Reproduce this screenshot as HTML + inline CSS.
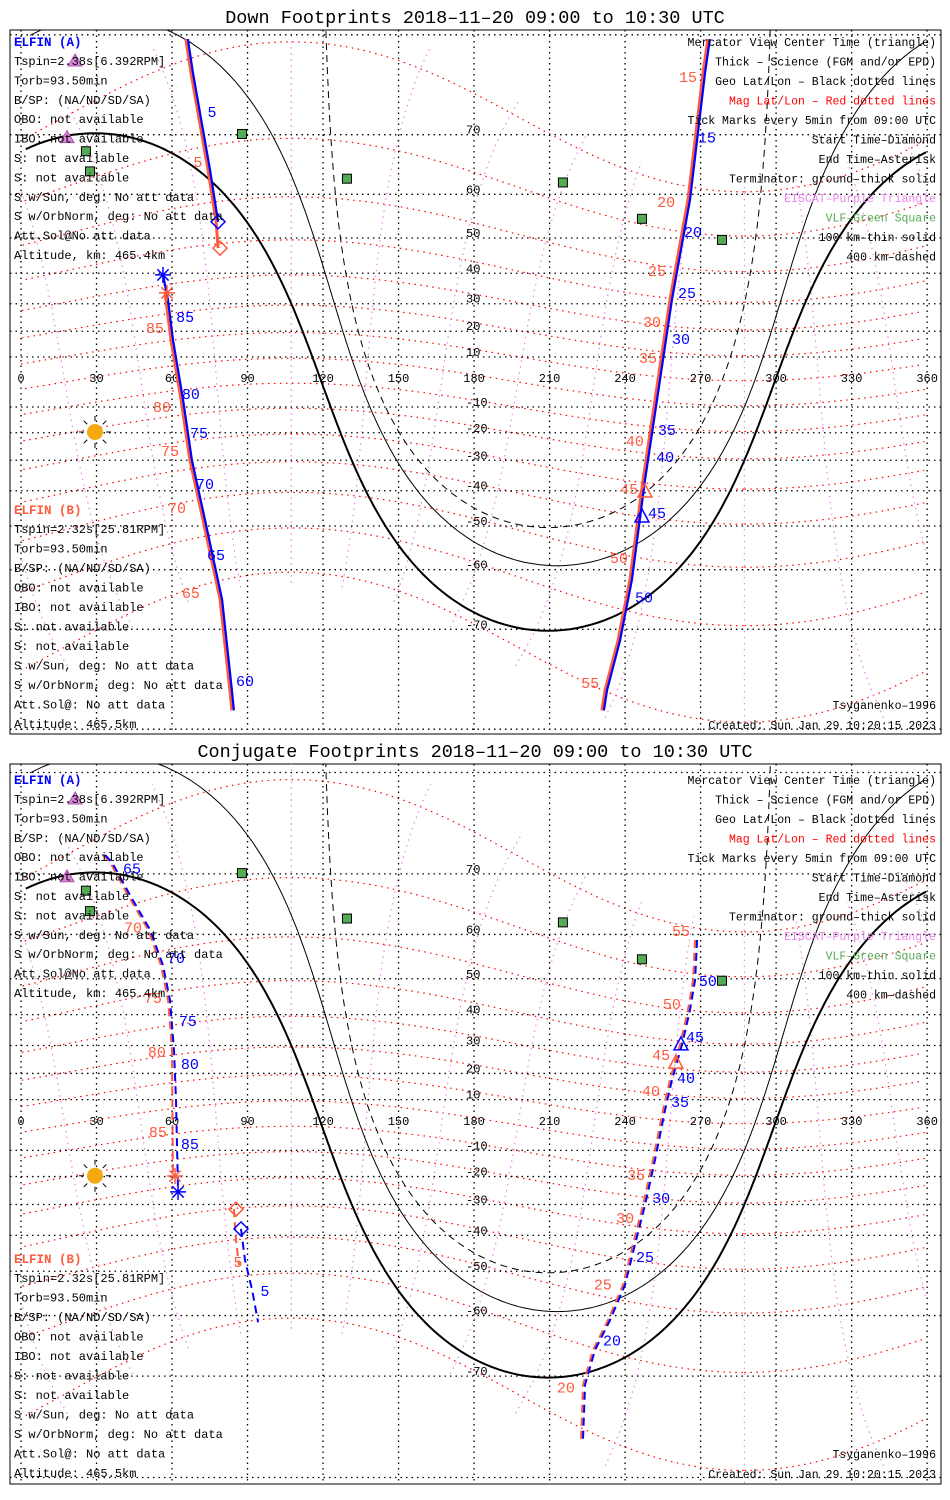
<!DOCTYPE html>
<html><head><meta charset="utf-8"><style>
html,body{margin:0;padding:0;background:#fff;width:950px;height:1500px;overflow:hidden;}
svg{display:block;}
text{font-family:"Liberation Mono",monospace;}
</style></head><body>
<svg id="chart" width="950" height="1500" viewBox="0 0 950 1500" xmlns="http://www.w3.org/2000/svg">
<defs>
<clipPath id="clip1"><rect x="10" y="30" width="931" height="704"/></clipPath>
<clipPath id="clip2"><rect x="10" y="764" width="931" height="720"/></clipPath>
</defs>
<rect x="0" y="0" width="950" height="1500" fill="#fff"/>
<text x="475" y="23" text-anchor="middle" font-size="18.5">Down Footprints 2018–11–20 09:00 to 10:30 UTC</text>
<text x="475" y="757" text-anchor="middle" font-size="18.5">Conjugate Footprints 2018–11–20 09:00 to 10:30 UTC</text>
<g id="p1"></g>
<g id="p2"></g>
</svg>
<script>
// ---- data ----
const gridLats = [-80,-70,-60,-50,-40,-30,-20,-10,0,10,20,30,40,50,60,70,80];
const gridLons = [0,30,60,90,120,150,180,210,240,270,300,330,360];
const latLabels = [70,60,50,40,30,20,10,-10,-20,-30,-40,-50,-60,-70];
const magLats = [-70,-60,-50,-40,-30,-20,-10,0,10,20,30,40,50,60,70];
const magLons = [0,30,60,90,120,150,180,210,240,270,300,330];
const dipolePole = [80.5, 287.4];
const termCenters = [[19.8,209.4],[19.8,213],[19.8,209.4]];
const termRadii = [90, 79, 70.2];
const sunPos = [29.4, -19.7];
const vlfStations = [[87.8,70.1],[25.8,67.6],[27.4,64.3],[129.5,63.0],[215.3,62.3],[246.7,54.7],[278.5,49.5]];
const eiscatStations = [[21.5,78.0],[18.3,69.6]];

const trackA1 = [
 [[66.3,79.7],[68.3,77.0],[75.1,64.6],[78.3,54.0]],
 [[273.7,79.7],[271.8,77.0],[265.8,58.9],[258.6,31.3],[252.7,-7.2],[247.9,-36.7],[242.7,-62.0],[238.0,-71.5],[232.8,-76.9],[231.6,-78.6]],
 [[84.6,-78.6],[83.8,-76.9],[79.9,-65.5],[73.1,-48.4],[67.9,-29.9],[64.4,-7.2],[60.4,16.7],[58.4,31.3],[56.4,39.5]]];
const trackB1 = [
 [[66.3,79.7],[68.3,77.0],[75.1,64.6],[78.3,54.0],[79.1,47.3]],
 [[273.7,79.7],[271.8,77.0],[265.8,58.9],[258.6,31.3],[252.7,-7.2],[247.9,-36.7],[242.7,-62.0],[238.0,-71.5],[232.8,-76.9],[231.6,-78.6]],
 [[84.6,-78.6],[83.8,-76.9],[79.9,-65.5],[73.1,-48.4],[67.9,-29.9],[64.4,-7.2],[60.4,16.7],[58.0,33.7]]];
const trackA2 = [
 [[33.4,72.4],[36.2,71.5],[43.3,66.9],[51.3,60.9],[56.4,53.3],[59.2,44.3],[60.8,28.4],[61.6,9.9],[62.0,-9.9],[62.4,-25.6]],
 [[87.4,-38.0],[89.0,-47.1],[91.8,-54.5],[94.2,-61.3]],
 [[268.6,58.9],[267.8,49.7],[265.8,41.4],[262.6,30.2],[258.6,17.5],[255.9,6.0],[251.9,-13.7],[247.9,-30.2],[243.9,-42.8],[240.0,-53.3],[234.0,-60.9],[228.0,-66.2],[224.1,-71.1],[223.3,-77.0]]];
const trackB2 = [
 [[33.4,72.4],[36.2,71.5],[43.3,66.9],[51.3,60.9],[56.4,53.3],[59.2,44.3],[60.8,28.4],[61.2,-19.8]],
 [[85.4,-31.6],[86.2,-41.4],[87.4,-48.4]],
 [[268.6,58.9],[267.8,49.7],[265.8,41.4],[262.6,30.2],[258.6,17.5],[255.9,6.0],[251.9,-13.7],[247.9,-30.2],[243.9,-42.8],[240.0,-53.3],[234.0,-60.9],[228.0,-66.2],[224.1,-71.1],[223.3,-77.0]]];

const tickMinA1 = [5,15,20,25,30,35,40,45,50,60,65,70,75,80,85];
const tickLocA1 = [[75.9,72.9],[272.5,69.6],[267.0,51.5],[264.6,33.7],[262.2,17.0],[256.6,-19.0],[255.9,-28.9],[252.7,-46.5],[247.5,-65.1],[89.0,-76.0],[77.5,-56.9],[73.1,-37.9],[70.7,-20.1],[67.5,-4.8],[65.2,25.3]];
const tickMinB1 = [5,15,20,25,30,35,40,45,50,55,65,70,75,80,85];
const tickLocB1 = [[70.3,65.9],[265.0,76.6],[256.3,58.4],[252.7,40.7],[250.7,23.4],[249.1,9.6],[243.9,-23.1],[241.6,-39.5],[237.6,-57.6],[226.1,-76.2],[67.5,-64.4],[62.0,-45.1],[59.2,-26.7],[56.0,-10.0],[53.2,21.2]];
const tickMinA2 = [65,70,75,80,85,5,50,45,40,35,30,25,20];
const tickLocA2 = [[44.1,70.7],[61.6,55.0],[66.3,38.0],[67.1,23.5],[67.1,-7.5],[96.9,-54.8],[272.9,49.4],[267.8,32.9],[264.2,18.3],[261.8,9.1],[254.3,-27.7],[247.9,-46.2],[234.8,-64.6]];
const tickMinB2 = [70,75,80,85,5,55,50,45,40,35,30,25,20];
const tickLocB2 = [[44.5,61.3],[52.4,44.9],[54.0,27.7],[54.4,-2.8],[86.2,-47.6],[262.2,60.7],[258.6,43.1],[254.3,26.7],[250.3,13.3],[244.4,-19.4],[240.0,-34.6],[231.2,-53.3],[216.5,-71.5]];

const startA = [[78.3,54.0],[87.4,-38.0]], startB = [[79.1,47.3],[85.4,-31.6]];
const endA = [[56.4,39.5],[62.4,-25.6]], endB = [[58.0,33.7],[61.2,-19.8]];
const centerA = [[246.7,-47.6],[262.2,30.2]], centerB = [[247.9,-40.4],[260.2,23.8]];

const infoA = ["Tspin=2.38s[6.392RPM]","Torb=93.50min","B/SP: (NA/ND/SD/SA)","OBO: not available","IBO: not available","S: not available","S: not available","S w/Sun, deg: No att data","S w/OrbNorm, deg: No att data","Att.Sol@No att data","Altitude, km: 465.4km"];
const infoB = ["Tspin=2.32s[25.81RPM]","Torb=93.50min","B/SP: (NA/ND/SD/SA)","OBO: not available","IBO: not available","S: not available","S: not available","S w/Sun, deg: No att data","S w/OrbNorm, deg: No att data","Att.Sol@: No att data","Altitude: 465.5km"];
const legendLines = [["Mercator View Center Time (triangle)","#000"],["Thick – Science (FGM and/or EPD)","#000"],["Geo Lat/Lon – Black dotted lines","#000"],["Mag Lat/Lon – Red dotted lines","#ff0000"],["Tick Marks every 5min from 09:00 UTC","#000"],["Start Time–Diamond","#000"],["End Time–Asterisk","#000"],["Terminator: ground–thick solid","#000"],["EISCAT–Purple Triangle","#ee82ee"],["VLF–Green Square","#55aa55"],["100 km–thin solid","#000"],["400 km–dashed","#000"]];

// ---- rendering ----
const NS = "http://www.w3.org/2000/svg";
const D = Math.PI/180;
const panels = [
 {g:document.getElementById('p1'), top:30, bot:734, y0:382, k:142.5, clip:'clip1', dy:0, dyB:0, tracks:[trackA1,trackB1], ticksA:[tickMinA1,tickLocA1], ticksB:[tickMinB1,tickLocB1], dashed:false, idx:0},
 {g:document.getElementById('p2'), top:764, bot:1484, y0:1125, k:144.7, clip:'clip2', dy:738, dyB:749, tracks:[trackA2,trackB2], ticksA:[tickMinA2,tickLocA2], ticksB:[tickMinB2,tickLocB2], dashed:true, idx:1}];
function xOf(lon){return 21 + lon*2.517;}
function yOf(P,lat){const l=Math.max(-85,Math.min(85,lat));return P.y0 - P.k*Math.log(Math.tan(Math.PI/4 + l*D/2));}
function mk(tag,attrs,parent){const e=document.createElementNS(NS,tag);for(const a in attrs)e.setAttribute(a,attrs[a]);parent.appendChild(e);return e;}
function pathFromLonLat(P,pts,wrap){let d='',prev=null;for(const p of pts){let lon=p[0];if(wrap){lon=((lon%360)+360)%360;}const x=xOf(lon),y=yOf(P,p[1]);if(prev===null||(wrap&&Math.abs(lon-prev)>180))d+='M'+x.toFixed(1)+','+y.toFixed(1);else d+='L'+x.toFixed(1)+','+y.toFixed(1);prev=lon;}return d;}
function magToGeo(mlat,mlon){const th=(90-dipolePole[0])*D, ph=dipolePole[1]*D;const x=Math.cos(mlat*D)*Math.cos(mlon*D),y=Math.cos(mlat*D)*Math.sin(mlon*D),z=Math.sin(mlat*D);const x1=x*Math.cos(th)+z*Math.sin(th),z1=-x*Math.sin(th)+z*Math.cos(th);const X=x1*Math.cos(ph)-y*Math.sin(ph),Y=x1*Math.sin(ph)+y*Math.cos(ph);return [Math.atan2(Y,X)/D, Math.asin(Math.max(-1,Math.min(1,z1)))/D];}
function circlePts(c,R){const pts=[];const f1=c[0]*D,l1=c[1]*D,d=R*D;for(let b=0;b<=360;b+=1){const t=b*D;const f2=Math.asin(Math.sin(f1)*Math.cos(d)+Math.cos(f1)*Math.sin(d)*Math.cos(t));const l2=l1+Math.atan2(Math.sin(t)*Math.sin(d)*Math.cos(f1),Math.cos(d)-Math.sin(f1)*Math.sin(f2));pts.push([l2/D,f2/D]);}return pts;}

panels.forEach(P=>{
 const g=P.g;
 mk('rect',{x:10,y:P.top,width:931,height:P.bot-P.top,fill:'none',stroke:'#000','stroke-width':1,},g);
 const m=mk('g',{'clip-path':'url(#'+P.clip+')',},g);
 magLats.forEach(ml=>{const pts=[];for(let mo=0;mo<=360;mo+=2)pts.push(magToGeo(ml,mo));
  const e=mk('path',{d:pathFromLonLat(P,pts,true),fill:'none',stroke:'#ff0000','stroke-width':1.2,'stroke-dasharray':'1.5,4.5'},m);
  });
 magLons.forEach(mo=>{const pts=[];for(let ml=-72;ml<=72;ml+=2)pts.push(magToGeo(ml,mo));
  const e=mk('path',{d:pathFromLonLat(P,pts,true),fill:'none',stroke:'#ee82ee','stroke-width':1.2,'stroke-dasharray':'1.5,4.5'},m);
  });
 gridLats.forEach(la=>{if(la===0)return;const y=yOf(P,la);const e=mk('line',{x1:10,x2:941,y1:y,y2:y,stroke:'#000','stroke-width':1.3,'stroke-dasharray':'1.5,4'},m);});
 gridLons.forEach(lo=>{const x=xOf(lo);const e=mk('line',{x1:x,x2:x,y1:P.top,y2:P.bot,stroke:'#000','stroke-width':1.3,'stroke-dasharray':'1.5,4'},m);});
 gridLons.forEach(lo=>{const t=mk('text',{x:xOf(lo),y:yOf(P,0)+0,'text-anchor':'middle','font-size':12},m);t.textContent=lo;});
 latLabels.forEach(la=>{const t=mk('text',{x:466,y:yOf(P,la)-1,'font-size':12},m);t.textContent=la;});
 termRadii.forEach((R,i)=>{const e=mk('path',{d:pathFromLonLat(P,circlePts(termCenters[i],R),true),fill:'none',stroke:'#000','stroke-width':i===0?2:1,'stroke-dasharray':i===2?'7,5':'none'},m);
  });
 vlfStations.forEach(s=>{const e=mk('rect',{x:xOf(s[0])-4.5,y:yOf(P,s[1])-4.5,width:9,height:9,fill:'#55aa55',stroke:'#000','stroke-width':1},m);});
 eiscatStations.forEach(s=>{const x=xOf(s[0]),y=yOf(P,s[1]);const e=mk('polygon',{points:`${x},${y-7} ${x-7},${y+5} ${x+7},${y+5}`,fill:'#dd88dd',stroke:'#aa55aa'},m);});
 const sx=xOf(sunPos[0]),sy=yOf(P,sunPos[1]);
 const sg=mk('g',{},m);
 for(let a=0;a<360;a+=45){mk('line',{x1:sx+11*Math.cos(a*D),y1:sy+11*Math.sin(a*D),x2:sx+16*Math.cos(a*D),y2:sy+16*Math.sin(a*D),stroke:'#000','stroke-width':1},sg);}
 mk('circle',{cx:sx,cy:sy,r:8,fill:'#f5a911'},sg);
 const cols=['#0000ff','#ff5a3c'];
 [1,0].forEach(ti=>{const tr=P.tracks[ti];const off=ti===1?-2:0;
  tr.forEach(seg=>{const e=mk('path',{d:pathFromLonLat(P,seg,false),fill:'none',stroke:cols[ti],'stroke-width':P.dashed?2:(ti===1?3:2.2),'stroke-dasharray':P.dashed?'8,5':'none',transform:`translate(${off},0)`},m);
   });});
 [[P.ticksA,cols[0],'elfin-a-tick-label'],[P.ticksB,cols[1],'elfin-b-tick-label']].forEach(([tk,c,nm])=>{
  tk[0].forEach((mn,i)=>{const t=mk('text',{x:xOf(tk[1][i][0]),y:yOf(P,tk[1][i][1])+5,'text-anchor':'middle','font-size':15,fill:c,'font-family':'Liberation Sans, sans-serif'},m);t.textContent=mn;});});
 function diamond(p,c,nm){const x=xOf(p[0]),y=yOf(P,p[1]);const e=mk('polygon',{points:`${x},${y-7} ${x+7},${y} ${x},${y+7} ${x-7},${y}`,fill:'none',stroke:c,'stroke-width':1.5},m);}
 function star(p,c,nm){const x=xOf(p[0]),y=yOf(P,p[1]);const sgp=mk('g',{stroke:c,'stroke-width':1.5},m);for(let a=0;a<180;a+=45)mk('line',{x1:x-8*Math.cos(a*D),y1:y-8*Math.sin(a*D),x2:x+8*Math.cos(a*D),y2:y+8*Math.sin(a*D)},sgp);}
 function tri(p,c,nm){const x=xOf(p[0]),y=yOf(P,p[1]);const e=mk('polygon',{points:`${x},${y-8} ${x-7},${y+5} ${x+7},${y+5}`,fill:'none',stroke:c,'stroke-width':1.5},m);}
 diamond(startB[P.idx],cols[1],'elfin-b-start-diamond');diamond(startA[P.idx],cols[0],'elfin-a-start-diamond');
 star(endB[P.idx],cols[1],'elfin-b-end-asterisk');star(endA[P.idx],cols[0],'elfin-a-end-asterisk');
 tri(centerB[P.idx],cols[1],'elfin-b-center-triangle');tri(centerA[P.idx],cols[0],'elfin-a-center-triangle');
 const ta=mk('text',{x:14,y:46+P.dy,'font-size':12.5,fill:'#0000ff','font-weight':'bold'},g);ta.textContent='ELFIN (A)';
 infoA.forEach((s,i)=>{const t=mk('text',{x:14,y:65+P.dy+i*19.4,'font-size':12},g);t.textContent=s;});
 const tb=mk('text',{x:14,y:514+P.dyB,'font-size':12.5,fill:'#ff5a3c','font-weight':'bold'},g);tb.textContent='ELFIN (B)';
 infoB.forEach((s,i)=>{const t=mk('text',{x:14,y:533+P.dyB+i*19.5,'font-size':12},g);t.textContent=s;});
 legendLines.forEach((s,i)=>{const t=mk('text',{x:936,y:46+P.dy+i*19.5,'font-size':11.5,'text-anchor':'end',fill:s[1]},g);t.textContent=s[0];});
 const t1=mk('text',{x:936,y:709+P.dyB,'font-size':11.5,'text-anchor':'end'},g);t1.textContent='Tsyganenko–1996';
 const t2=mk('text',{x:936,y:729+P.dyB,'font-size':11.5,'text-anchor':'end'},g);t2.textContent='Created: Sun Jan 29 10:20:15 2023';
});
</script>
</body></html>
